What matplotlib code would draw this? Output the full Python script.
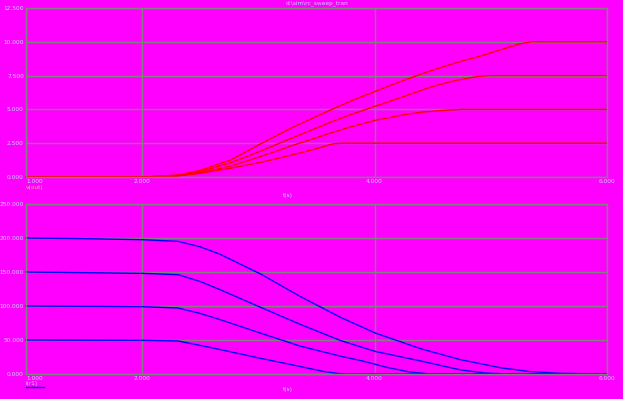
import numpy as np
import matplotlib
matplotlib.use("Agg")
import matplotlib.pyplot as plt

# time points (s) and values
t_v10 = [1.0, 2.07, 2.31, 2.5, 2.76, 3.03, 3.30, 3.62, 3.79, 4.01, 4.25, 4.48, 4.70, 4.91, 5.10, 5.25, 5.35, 6.0]
v10 = [0.0, 0.02, 0.15, 0.5, 1.25, 2.5, 3.7, 4.95, 5.6, 6.35, 7.15, 7.85, 8.45, 8.95, 9.45, 9.85, 10.0, 10.0]

t_v75 = [1.0, 2.07, 2.31, 2.5, 2.76, 3.03, 3.28, 3.62, 3.79, 4.01, 4.25, 4.48, 4.70, 4.90, 5.0, 6.0]
v75 = [0.0, 0.02, 0.12, 0.4, 1.05, 1.95, 2.85, 4.05, 4.6, 5.25, 5.95, 6.65, 7.15, 7.45, 7.5, 7.5]

t_v5 = [1.0, 2.07, 2.31, 2.5, 2.76, 3.03, 3.30, 3.62, 3.79, 4.01, 4.25, 4.41, 4.60, 4.75, 6.0]
v5 = [0.0, 0.02, 0.10, 0.32, 0.8, 1.55, 2.35, 3.25, 3.7, 4.2, 4.6, 4.8, 4.93, 5.0, 5.0]

t_v25 = [1.0, 2.07, 2.31, 2.5, 2.76, 3.03, 3.30, 3.50, 3.64, 3.72, 6.0]
v25 = [0.0, 0.02, 0.08, 0.28, 0.65, 1.1, 1.65, 2.1, 2.45, 2.5, 2.5]

t_i200 = [1.0, 1.5, 2.0, 2.31, 2.5, 2.67, 3.02, 3.36, 3.71, 4.01, 4.40, 4.74, 5.09, 5.34, 5.6, 6.0]
i200 = [200, 199, 197.5, 195, 187, 176, 147, 114, 83, 60, 37, 21, 9, 3.5, 1, 0]

t_i150 = [1.0, 2.0, 2.31, 2.5, 2.67, 3.02, 3.36, 3.71, 4.01, 4.40, 4.74, 4.95, 5.15, 6.0]
i150 = [150, 148, 146, 136, 124, 98, 73, 49, 33, 19, 6, 1.5, 0, 0]

t_i100 = [1.0, 2.0, 2.31, 2.5, 2.67, 3.02, 3.36, 3.71, 3.9, 4.1, 4.3, 4.45, 4.55, 6.0]
i100 = [100, 99, 97, 89, 80, 60, 41, 26, 19, 10, 3, 0.5, 0, 0]

t_i50 = [1.0, 2.0, 2.31, 2.5, 2.67, 3.02, 3.36, 3.55, 3.7, 3.75, 6.0]
i50 = [50, 49.5, 48.5, 42, 36, 23, 11, 4, 0.5, 0, 0]

x_ticks = [1, 2, 4, 6]
x_labels = ["1.000", "2.000", "4.000", "6.000"]
v_ticks = [0, 2.5, 5, 7.5, 10, 12.5]
v_labels = ["0.000", "2.500", "5.000", "7.500", "10.000", "12.500"]
i_ticks = [0, 50, 100, 150, 200, 250]
i_labels = ["0.000", "50.000", "100.000", "150.000", "200.000", "250.000"]

bg = "#ff00ff"
grid_col = "#808080"
txt_col = "#c8d0ff"
fs = 4.2

fig = plt.figure(figsize=(6.23, 3.99), dpi=100)
fig.patch.set_facecolor(bg)

ax1 = fig.add_axes([26 / 623, 1 - 177 / 399, 581 / 623, 169 / 399])
ax2 = fig.add_axes([26 / 623, 1 - 374 / 399, 581 / 623, 170 / 399])


def style_axes(ax, yt, yl):
    ax.set_facecolor(bg)
    ax.set_xlim(1, 6)
    ax.set_xticks(x_ticks)
    ax.set_xticklabels(x_labels)
    ax.set_ylim(yt[0], yt[-1])
    ax.set_yticks(yt)
    ax.set_yticklabels(yl)
    ax.tick_params(length=0, pad=1.5, labelsize=fs, labelcolor=txt_col)
    ax.get_xticklabels()[0].set_ha("left")
    ax.grid(True, color=grid_col, lw=1.0)
    ax.set_axisbelow(True)
    for s in ax.spines.values():
        s.set_color(grid_col)
        s.set_linewidth(1.0)


style_axes(ax1, v_ticks, v_labels)
style_axes(ax2, i_ticks, i_labels)

for t, v in [(t_v10, v10), (t_v75, v75), (t_v5, v5), (t_v25, v25)]:
    ax1.plot(t, v, color="#ff0000", lw=1.0, clip_on=False)

for t, i in [(t_i200, i200), (t_i150, i150), (t_i100, i100), (t_i50, i50)]:
    ax2.plot(t, i, color="#0000ff", lw=1.0, clip_on=False)

# titles and labels
fig.text(317 / 623, 1 - 3 / 399, r"d:\sim\rc_sweep_tran", color=txt_col,
         fontsize=fs, ha="center", va="center")
fig.text(288 / 623, 1 - 196 / 399, "t(s)", color=txt_col, fontsize=fs,
         ha="center", va="center")
fig.text(288 / 623, 1 - 390 / 399, "t(s)", color=txt_col, fontsize=fs,
         ha="center", va="center")
fig.text(26 / 623, 1 - 188 / 399, "v(out)", color="#ffb080", fontsize=fs,
         ha="left", va="center")
fig.text(26 / 623, 1 - 383 / 399, "i(r1)", color=txt_col, fontsize=fs,
         ha="left", va="center")
fig.add_artist(plt.Line2D([26 / 623, 44 / 623], [1 - 386.5 / 399, 1 - 386.5 / 399],
                          color="#0000ff", lw=1.0))

fig.savefig("out.png", dpi=100, facecolor=bg)
